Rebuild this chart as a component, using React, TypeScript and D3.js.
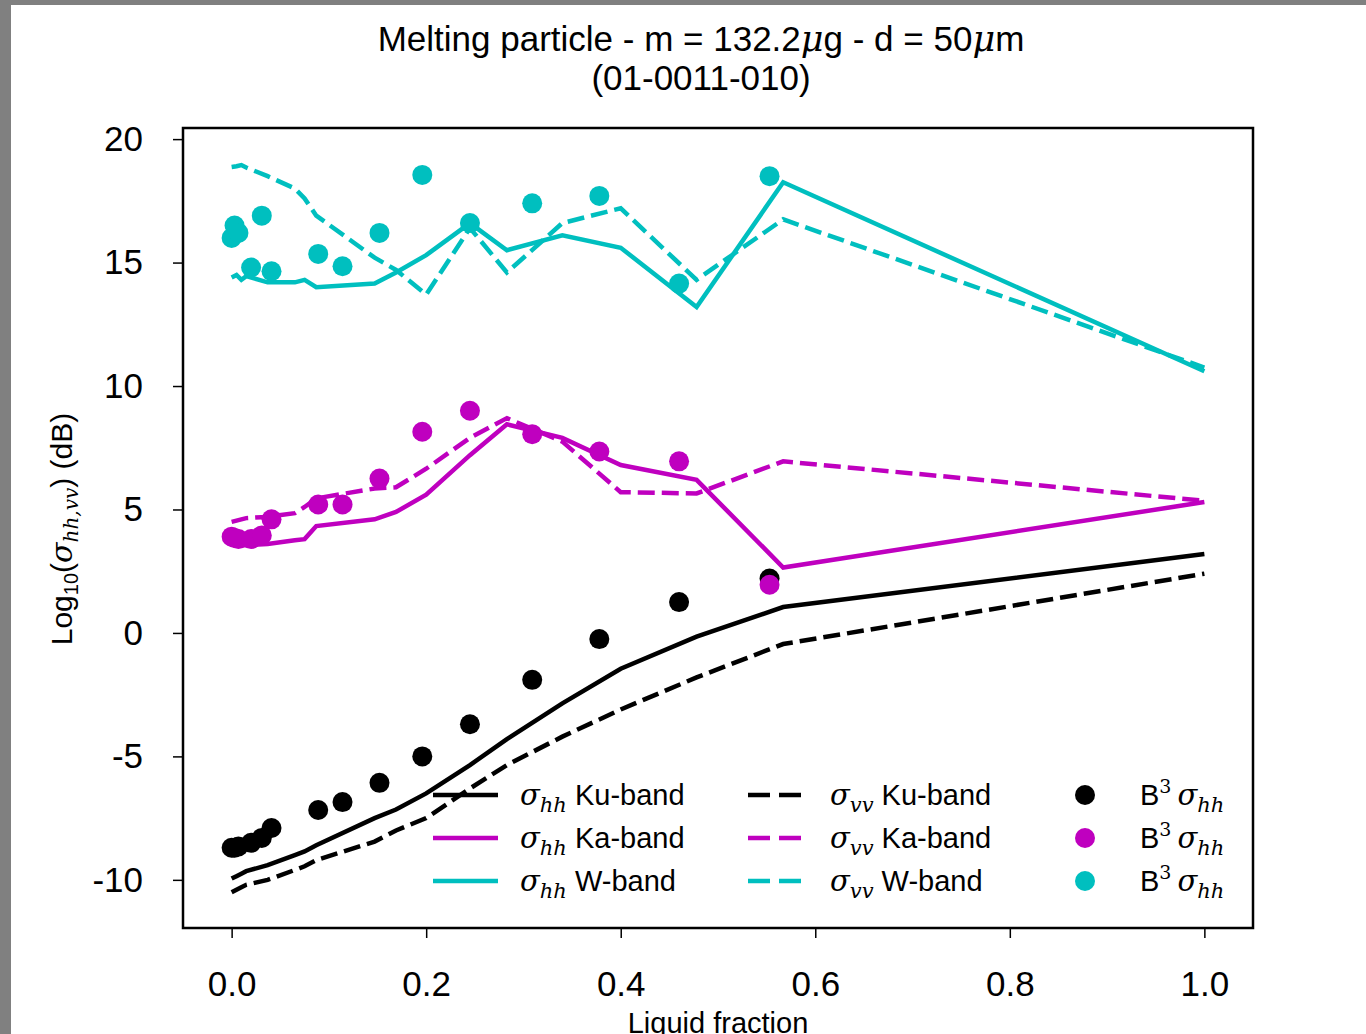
import { useEffect, useRef } from "react";
import * as d3 from "d3";

const W = 1366;
const H = 1034;

// frame of the axes
const left = 183;
const right = 1253;
const top = 128;
const bottom = 928;

const CYAN = "#00bfbf";
const MAGENTA = "#bf00bf";

// model curves, liquid fraction grid
const xModel = [0, 0.005, 0.01, 0.015, 0.037, 0.065, 0.075, 0.087, 0.147, 0.169, 0.2, 0.245, 0.283, 0.34, 0.4, 0.478, 0.567, 1.0];

const kuHH = [-9.95, -9.85, -9.75, -9.65, -9.4, -9.0, -8.85, -8.6, -7.5, -7.15, -6.5, -5.35, -4.3, -2.85, -1.45, -0.15, 1.05, 3.2];
const kuVV = [-10.5, -10.4, -10.3, -10.2, -10.0, -9.6, -9.45, -9.2, -8.45, -8.0, -7.5, -6.3, -5.35, -4.2, -3.1, -1.8, -0.45, 2.4];
const kaHH = [3.6, 3.6, 3.55, 3.55, 3.6, 3.75, 3.8, 4.33, 4.6, 4.9, 5.6, 7.2, 8.45, 7.9, 6.8, 6.2, 2.65, 5.3];
const kaVV = [4.5, 4.55, 4.6, 4.65, 4.7, 4.85, 5.1, 5.45, 5.85, 5.9, 6.65, 7.9, 8.7, 7.75, 5.7, 5.65, 6.95, 5.35];
const wHH = [14.4, 14.5, 14.3, 14.45, 14.2, 14.2, 14.3, 14.0, 14.15, 14.6, 15.3, 16.6, 15.5, 16.1, 15.6, 13.2, 18.25, 10.6];
const wVV = [18.87, 18.9, 18.95, 18.85, 18.5, 18.0, 17.6, 16.9, 15.2, 14.7, 13.7, 16.4, 14.6, 16.6, 17.2, 14.3, 16.75, 10.75];

// B3 points
const xB3 = [0.0, 0.003, 0.007, 0.02, 0.031, 0.041, 0.089, 0.114, 0.152, 0.196, 0.245, 0.309, 0.378, 0.46, 0.553];
const b3Ku = [-8.7, -8.7, -8.65, -8.5, -8.3, -7.9, -7.17, -6.85, -6.07, -5.0, -3.7, -1.9, -0.25, 1.25, 2.2];
const b3Ka = [3.9, 3.85, 3.8, 3.8, 3.95, 4.6, 5.2, 5.2, 6.25, 8.15, 9.0, 8.05, 7.35, 6.95, 1.95];
const b3W = [16.0, 16.5, 16.2, 14.8, 16.9, 14.65, 15.35, 14.85, 16.2, 18.55, 16.6, 17.4, 17.7, 14.15, 18.5];

const xTicks = [0, 0.2, 0.4, 0.6, 0.8, 1.0];
const yTicks = [-10, -5, 0, 5, 10, 15, 20];

const lines = [
  { values: kuHH, color: "black", dashed: false, band: "Ku-band", pol: "hh" },
  { values: kaHH, color: MAGENTA, dashed: false, band: "Ka-band", pol: "hh" },
  { values: wHH, color: CYAN, dashed: false, band: "W-band", pol: "hh" },
  { values: kuVV, color: "black", dashed: true, band: "Ku-band", pol: "vv" },
  { values: kaVV, color: MAGENTA, dashed: true, band: "Ka-band", pol: "vv" },
  { values: wVV, color: CYAN, dashed: true, band: "W-band", pol: "vv" },
];

const dots = [
  { values: b3Ku, color: "black" },
  { values: b3Ka, color: MAGENTA },
  { values: b3W, color: CYAN },
];

const sans = "'Liberation Sans', Arial, sans-serif";
const serif = "'DejaVu Serif', serif";

const App = () => {
  const xAxisRef = useRef<SVGGElement>(null);
  const yAxisRef = useRef<SVGGElement>(null);

  const xScale = d3.scaleLinear().domain([-0.05, 1.05]).range([left, right]);
  const yScale = d3.scaleLinear().domain([-11.95, 20.45]).range([bottom, top]);

  useEffect(() => {
    const xAxis = d3
      .axisBottom(xScale)
      .tickValues(xTicks)
      .tickFormat((d) => d3.format(".1f")(d as number))
      .tickSize(10)
      .tickPadding(33);
    const yAxis = d3
      .axisLeft(yScale)
      .tickValues(yTicks)
      .tickFormat((d) => String(d))
      .tickSize(10)
      .tickPadding(30);
    const gx = d3.select(xAxisRef.current!).call(xAxis);
    const gy = d3.select(yAxisRef.current!).call(yAxis);
    [gx, gy].forEach((g) => {
      g.select(".domain").remove();
      g.selectAll("line").attr("stroke", "black").attr("stroke-width", 1.5);
      g.selectAll("text")
        .attr("font-size", "35px")
        .attr("font-family", sans)
        .attr("fill", "black");
    });
  }, []);

  const line = (vals: number[]) =>
    d3
      .line<number>()
      .x((_, i) => xScale(xModel[i]))
      .y((d) => yScale(d))(vals) as string;

  const legendRows = [795, 838, 881];

  return (
    <svg width={W} height={H} style={{ position: "absolute", left: 0, top: 0, background: "white" }}>
      <rect x={0} y={0} width={W} height={5} fill="#808080" />
      <rect x={0} y={0} width={11} height={H} fill="#808080" />

      {/* title */}
      <text x={701} y={51} textAnchor="middle" fontSize={35} fontFamily={sans}>
        Melting particle - m = 132.2
        <tspan fontFamily={serif} fontStyle="italic">μ</tspan>g - d = 50
        <tspan fontFamily={serif} fontStyle="italic">μ</tspan>m
      </text>
      <text x={701} y={90} textAnchor="middle" fontSize={35} fontFamily={sans}>
        (01-0011-010)
      </text>

      <g>
        {lines.map((l, i) => (
          <path
            key={i}
            d={line(l.values)}
            fill="none"
            stroke={l.color}
            strokeWidth={4.5}
            strokeDasharray={l.dashed ? "17,7" : undefined}
          />
        ))}
      </g>
      <g>
        {dots.map((s, j) =>
          s.values.map((v, i) => (
            <circle key={`${j}-${i}`} cx={xScale(xB3[i])} cy={yScale(v)} r={10} fill={s.color} />
          ))
        )}
      </g>

      {/* legend */}
      <g fontFamily={sans} fontSize={29}>
        {lines.map((l, i) => {
          const col = l.dashed ? 1 : 0;
          const row = i % 3;
          const y = legendRows[row];
          const x0 = col === 0 ? 433 : 748;
          const x1 = col === 0 ? 498 : 801;
          const tx = col === 0 ? 520 : 830;
          return (
            <g key={i}>
              <line
                x1={x0}
                x2={x1}
                y1={y}
                y2={y}
                stroke={l.color}
                strokeWidth={4.5}
                strokeDasharray={l.dashed ? "22,9" : undefined}
              />
              <text x={tx} y={y + 10}>
                <tspan fontFamily={serif} fontStyle="italic">σ</tspan>
                <tspan fontFamily={serif} fontStyle="italic" fontSize={21} dy={7}>
                  {l.pol}
                </tspan>
                <tspan dy={-7}> {l.band}</tspan>
              </text>
            </g>
          );
        })}
        {dots.map((s, i) => {
          const y = legendRows[i];
          return (
            <g key={`d${i}`}>
              <circle cx={1085} cy={y} r={10} fill={s.color} />
              <text x={1140} y={y + 10}>
                B<tspan fontFamily={serif} fontSize={19} dy={-12}>3</tspan>
                <tspan fontFamily={serif} fontStyle="italic" dy={12} dx={6}>σ</tspan>
                <tspan fontFamily={serif} fontStyle="italic" fontSize={21} dy={7}>hh</tspan>
              </text>
            </g>
          );
        })}
      </g>

      {/* frame */}
      <rect
        x={left}
        y={top}
        width={right - left}
        height={bottom - top}
        fill="none"
        stroke="black"
        strokeWidth={2.5}
      />
      <g ref={xAxisRef} transform={`translate(0,${bottom})`} />
      <g ref={yAxisRef} transform={`translate(${left},0)`} />

      {/* axis labels */}
      <text x={718} y={1033} textAnchor="middle" fontSize={29} fontFamily={sans}>
        Liquid fraction
      </text>
      <text
        transform={`translate(72,529) rotate(-90)`}
        textAnchor="middle"
        fontSize={30}
        fontFamily={sans}
      >
        Log<tspan fontSize={20} dy={6}>10</tspan>
        <tspan dy={-6}>(</tspan>
        <tspan fontFamily={serif} fontStyle="italic">σ</tspan>
        <tspan fontFamily={serif} fontStyle="italic" fontSize={20} dy={6}>hh,vv</tspan>
        <tspan dy={-6}>) (dB)</tspan>
      </text>
    </svg>
  );
};

export default App;
